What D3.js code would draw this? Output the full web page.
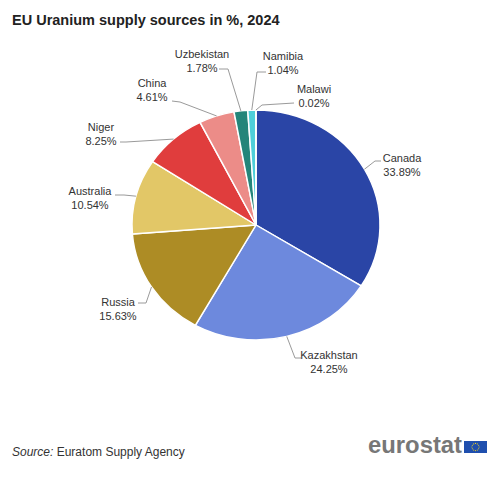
<!DOCTYPE html>
<html>
<head>
<meta charset="utf-8">
<script src="https://cdn.jsdelivr.net/npm/d3@7"></script>
<style>
  html, body { margin: 0; padding: 0; background: #fff; }
  svg { display: block; font-family: Arial, "Liberation Sans", sans-serif; }
</style>
</head>
<body>
<svg id="chart" width="497" height="477"></svg>
<script>
/* ── Data ─────────────────────────────────────────────────────── */
const countries = ["Canada", "Kazakhstan", "Russia", "Australia", "Niger", "China", "Uzbekistan", "Namibia", "Malawi"];
const shares    = [33.89, 24.25, 15.63, 10.54, 8.25, 4.61, 1.78, 1.04, 0.02];
const colors    = ["#2a45a6", "#6d89dd", "#ad8c25", "#e2c767", "#e03d3d", "#ec8c88", "#24857a", "#4fcfd9", "#9aa4c8"];

/* ── Label layout (text position + connector elbow/end, px) ───── */
const labelLayout = [
  { tx: 402, ty: 162, anchor: "middle", pts: [[375, 161], [381, 161]] },
  { tx: 329, ty: 359, anchor: "middle", pts: [[295, 358], [301, 358]] },
  { tx: 118, ty: 306, anchor: "middle", pts: [[146, 303], [138, 303]] },
  { tx: 90,  ty: 195, anchor: "middle", pts: [[124, 195], [115, 195]] },
  { tx: 101, ty: 131, anchor: "middle", pts: [[126, 142], [120, 142]] },
  { tx: 152, ty: 87,  anchor: "middle", pts: [[180, 102], [172, 101]] },
  { tx: 202, ty: 58,  anchor: "middle", pts: [[228, 69], [219, 69]] },
  { tx: 283, ty: 60,  anchor: "middle", pts: [[257, 72], [266, 72]] },
  { tx: 314, ty: 93,  anchor: "middle", pts: [[262, 105], [294, 103]] }
];

/* ── Geometry ─────────────────────────────────────────────────── */
const cx = 256, cy = 225, rx = 124, ry = 115;
const lineH = 13.5;

const svg = d3.select("#chart");

svg.append("text")
  .attr("x", 12).attr("y", 25)
  .attr("font-size", 14.5).attr("font-weight", "bold").attr("fill", "#222")
  .text("EU Uranium supply sources in %, 2024");

const pieData = d3.pie().sort(null).value(d => d)(shares);
const arc = d3.arc().innerRadius(0).outerRadius(rx);

const pieG = svg.append("g")
  .attr("transform", `translate(${cx},${cy}) scale(1,${ry / rx})`);

pieG.selectAll("path").data(pieData).join("path")
  .attr("d", arc)
  .attr("fill", (d, i) => colors[i])
  .attr("stroke", "#fff")
  .attr("stroke-width", 1.5)
  .attr("stroke-linejoin", "round");

// connectors: start on the (elliptical) rim at each slice's mid angle
const rim = d => {
  const a = (d.startAngle + d.endAngle) / 2;
  return [cx + rx * Math.sin(a), cy - ry * Math.cos(a)];
};

const line = d3.line();
svg.append("g").selectAll("path").data(pieData).join("path")
  .attr("d", (d, i) => line([rim(d), ...labelLayout[i].pts]))
  .attr("fill", "none")
  .attr("stroke", "#9a9a9a")
  .attr("stroke-width", 1);

const labels = svg.append("g").selectAll("text").data(pieData).join("text")
  .attr("x", (d, i) => labelLayout[i].tx)
  .attr("y", (d, i) => labelLayout[i].ty)
  .attr("text-anchor", (d, i) => labelLayout[i].anchor)
  .attr("font-size", 11)
  .attr("fill", "#333");

labels.append("tspan").text((d, i) => countries[i]);
labels.append("tspan")
  .attr("x", (d, i) => labelLayout[i].tx)
  .attr("dy", lineH)
  .text(d => d.value.toFixed(2) + "%");

/* ── Footer ───────────────────────────────────────────────────── */
const src = svg.append("text")
  .attr("x", 12).attr("y", 456)
  .attr("font-size", 12).attr("fill", "#333");
src.append("tspan").attr("font-style", "italic").text("Source:");
src.append("tspan").text(" Euratom Supply Agency");

svg.append("text")
  .attr("x", 368).attr("y", 453)
  .attr("font-size", 23).attr("font-weight", "bold").attr("fill", "#777")
  .attr("textLength", 94).attr("lengthAdjust", "spacingAndGlyphs")
  .text("eurostat");

const flag = svg.append("g").attr("transform", "translate(464,441)");
flag.append("rect").attr("width", 23).attr("height", 12).attr("fill", "#1f4fae");
flag.selectAll("circle").data(d3.range(12)).join("circle")
  .attr("cx", i => 11.5 + 3.6 * Math.sin(i * Math.PI / 6))
  .attr("cy", i => 6 - 3.6 * Math.cos(i * Math.PI / 6))
  .attr("r", 0.55)
  .attr("fill", "#f5d31b");
</script>
</body>
</html>
